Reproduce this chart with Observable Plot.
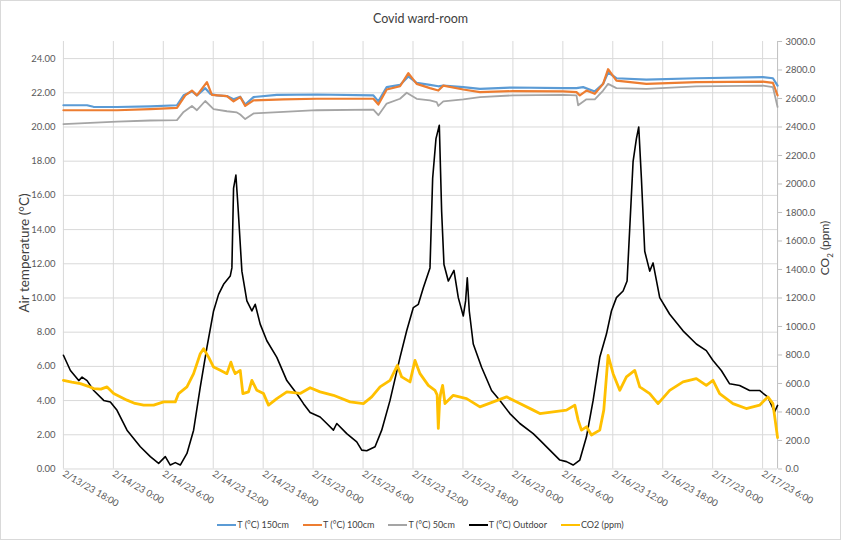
<!DOCTYPE html>
<html>
<head>
<meta charset="utf-8">
<script src="https://cdn.jsdelivr.net/npm/d3@7"></script>
<script src="https://cdn.jsdelivr.net/npm/@observablehq/plot@0.6"></script>
<style>
  html, body { margin: 0; padding: 0; background: #fff; }
  #wrap { position: relative; width: 841px; height: 540px; box-sizing: border-box; border: 1px solid #d9d9d9; font-family: Lato, "Open Sans", sans-serif; color: #595959; overflow: hidden; }
  #title { position: absolute; top: 10px; left: 0; width: 100%; text-align: center; font-size: 12.5px; color: #404040; }
  #chart { position: absolute; top: 29px; left: -1px; }
  .ytitle { position: absolute; white-space: nowrap; transform: translate(-50%, -50%) rotate(-90deg); color: #404040; }
  #legend { position: absolute; top: 516px; left: 0; width: 100%; display: flex; justify-content: center; font-size: 9px; line-height: 16px; color: #404040; }
  .item { display: flex; align-items: center; margin: 0 7px; }
  .sw { width: 19px; height: 2px; margin-right: 1px; }
</style>
</head>
<body>
<div id="wrap">
  <div id="title">Covid ward-room</div>
  <div id="chart"></div>
  <div class="ytitle" style="left:23px; top:252px; font-size:13.5px;">Air temperature (°C)</div>
  <div class="ytitle" style="left:825px; top:247px; font-size:12px;">CO<sub style="font-size:8px">2</sub> (ppm)</div>
  <div id="legend"></div>
</div>
<script>
// ---- data (hours after 2/13/23 18:00) ----
const startTime = [2023, 1, 13, 18];
const endHour = 85.8;

const seriesNames = ["T (°C) 150cm", "T (°C) 100cm", "T (°C) 50cm", "T (°C) Outdoor", "CO2 (ppm)"];
const seriesColors = ["#5B9BD5", "#ED7D31", "#A5A5A5", "#000000", "#FFC000"];

const t150Hours = [0, 2.84, 3.6, 6.44, 10.44, 13.64, 14.44, 15.44, 16.04, 17.04, 17.64, 18.44, 19.64, 20.44, 21.24, 21.84, 22.84, 25.64, 30.44, 37.24, 37.84, 38.84, 40.44, 41.44, 42.44, 44.04, 45.04, 45.64, 48.04, 50.04, 54.04, 60.04, 61.64, 62.44, 63.84, 64.84, 65.44, 66.44, 70.04, 76.04, 84.04, 85.24, 85.8];
const t150Values = [21.27, 21.27, 21.18, 21.17, 21.21, 21.27, 21.85, 22.08, 21.85, 22.27, 21.94, 21.85, 21.81, 21.62, 21.77, 21.31, 21.75, 21.88, 21.9, 21.85, 21.5, 22.33, 22.46, 22.96, 22.58, 22.46, 22.38, 22.42, 22.33, 22.23, 22.31, 22.27, 22.27, 22.33, 22.08, 22.52, 23.19, 22.85, 22.77, 22.85, 22.92, 22.85, 22.42];

const t100Hours = [0, 6.44, 10.44, 13.64, 14.64, 15.44, 16.04, 17.24, 17.84, 19.64, 20.44, 21.24, 21.84, 22.84, 26.44, 30.44, 37.24, 37.84, 38.84, 40.44, 41.44, 42.44, 44.04, 45.04, 45.64, 48.04, 50.04, 54.04, 60.04, 61.64, 62.04, 62.84, 63.84, 64.84, 65.44, 66.44, 70.04, 76.04, 84.04, 85.24, 85.8];
const t100Values = [20.98, 20.98, 21.04, 21.12, 21.85, 22.13, 21.85, 22.62, 21.88, 21.81, 21.5, 21.75, 21.23, 21.56, 21.62, 21.65, 21.65, 21.31, 22.19, 22.38, 23.15, 22.52, 22.27, 22.13, 22.42, 22.19, 22.04, 22.1, 22.08, 22.04, 21.85, 22.13, 21.94, 22.52, 23.38, 22.71, 22.52, 22.62, 22.65, 22.58, 21.85];

const t50Hours = [0, 6.44, 10.44, 13.64, 14.44, 15.44, 16.04, 17.04, 18.04, 19.64, 20.84, 21.24, 21.84, 22.84, 26.44, 30.44, 37.24, 37.84, 38.84, 40.44, 41.24, 42.44, 44.04, 44.84, 45.04, 45.64, 48.04, 50.04, 54.04, 60.04, 61.64, 61.84, 62.84, 63.84, 64.84, 65.44, 66.44, 70.04, 76.04, 84.04, 85.24, 85.8];
const t50Values = [20.17, 20.31, 20.38, 20.4, 20.88, 21.23, 20.98, 21.52, 21.04, 20.92, 20.85, 20.73, 20.46, 20.79, 20.88, 20.98, 21.02, 20.69, 21.37, 21.65, 22.0, 21.65, 21.55, 21.46, 21.23, 21.5, 21.62, 21.75, 21.85, 21.88, 21.85, 21.27, 21.62, 21.62, 22.13, 22.52, 22.27, 22.23, 22.38, 22.42, 22.33, 21.17];

const outdoorHours = [0, 0.84, 1.84, 2.24, 2.84, 3.64, 4.84, 5.64, 6.44, 7.64, 9.24, 10.44, 11.44, 12.24, 12.84, 13.44, 14.04, 14.84, 15.64, 16.44, 17.24, 18.04, 18.64, 19.24, 20.04, 20.24, 20.44, 20.72, 20.96, 21.44, 22.04, 22.64, 23.04, 23.64, 24.44, 25.64, 26.84, 28.04, 28.84, 29.64, 30.84, 31.64, 32.44, 32.84, 34.04, 35.24, 35.84, 36.44, 37.44, 38.24, 39.24, 40.44, 41.24, 42.04, 42.64, 43.24, 44.04, 44.36, 44.76, 45.16, 45.44, 45.72, 46.24, 46.92, 47.44, 48.04, 48.32, 48.52, 48.76, 49.24, 50.24, 51.44, 52.44, 53.64, 54.84, 56.44, 57.24, 58.44, 59.64, 60.44, 61.24, 62.04, 62.84, 63.64, 64.44, 65.24, 65.84, 66.44, 67.24, 67.72, 68.04, 68.44, 68.84, 69.12, 69.44, 69.84, 70.44, 70.84, 71.64, 72.84, 74.44, 76.04, 77.24, 78.04, 79.04, 80.04, 81.24, 82.44, 83.64, 84.64, 85.44, 85.8];
const outdoorValues = [6.65, 5.76, 5.17, 5.37, 5.17, 4.59, 4.01, 3.92, 3.43, 2.27, 1.3, 0.72, 0.33, 0.72, 0.23, 0.37, 0.23, 0.91, 2.27, 4.79, 7.11, 9.24, 10.21, 10.8, 11.28, 11.76, 16.41, 17.19, 15.45, 11.57, 9.83, 9.24, 9.63, 8.47, 7.5, 6.53, 5.17, 4.4, 3.82, 3.3, 3.04, 2.66, 2.27, 2.66, 2.07, 1.59, 1.1, 1.07, 1.3, 2.27, 4.01, 6.53, 8.08, 9.44, 9.63, 10.6, 11.76, 17.0, 19.32, 20.1, 15.06, 11.96, 10.99, 11.61, 10.02, 8.95, 9.83, 11.18, 9.24, 7.31, 5.95, 4.59, 4.01, 3.24, 2.66, 2.07, 1.69, 1.1, 0.52, 0.43, 0.23, 0.52, 1.88, 4.01, 6.53, 7.89, 9.24, 10.02, 10.41, 10.99, 14.09, 17.97, 19.32, 20.0, 17.0, 12.73, 11.57, 12.05, 10.02, 9.05, 8.08, 7.31, 6.92, 6.34, 5.76, 4.98, 4.88, 4.59, 4.59, 4.2, 3.33, 3.72];

const co2Hours = [0, 1.0, 2.04, 3.0, 3.64, 4.5, 5.24, 6.04, 7.64, 8.6, 9.64, 10.84, 12.04, 13.44, 13.84, 14.84, 15.64, 16.44, 16.84, 17.44, 18.04, 18.84, 19.64, 20.12, 20.4, 20.64, 21.24, 21.56, 22.24, 22.64, 23.24, 24.04, 24.64, 25.64, 26.84, 28.44, 29.64, 30.84, 32.44, 34.44, 36.04, 37.04, 38.04, 39.24, 40.12, 40.64, 41.64, 42.24, 42.84, 43.84, 44.64, 44.9, 45.04, 45.2, 45.32, 45.56, 45.84, 46.84, 48.44, 50.04, 51.64, 53.24, 54.84, 56.44, 57.24, 58.84, 60.44, 61.44, 61.84, 62.24, 62.84, 63.44, 64.44, 64.92, 65.44, 66.04, 66.84, 67.64, 68.64, 69.24, 70.44, 71.44, 72.84, 74.44, 76.04, 77.24, 78.04, 78.84, 80.44, 82.04, 83.64, 84.64, 85.24, 85.8];
const co2Values = [622, 610, 599, 580, 564, 560, 576, 529, 483, 460, 448, 448, 471, 471, 529, 576, 669, 809, 844, 785, 715, 692, 669, 750, 700, 669, 692, 529, 541, 622, 552, 529, 448, 494, 541, 530, 570, 541, 517, 471, 459, 506, 576, 622, 727, 646, 611, 762, 669, 587, 552, 520, 285, 480, 529, 587, 459, 517, 494, 436, 471, 506, 459, 413, 389, 401, 413, 448, 343, 273, 296, 238, 273, 413, 797, 669, 552, 646, 692, 576, 529, 459, 552, 611, 634, 587, 622, 529, 459, 424, 448, 506, 459, 220];

const tempTicks = [0, 2, 4, 6, 8, 10, 12, 14, 16, 18, 20, 22, 24];
const co2Ticks = [0, 200, 400, 600, 800, 1000, 1200, 1400, 1600, 1800, 2000, 2200, 2400, 2600, 2800, 3000];
const xTickHours = [0, 6, 12, 18, 24, 30, 36, 42, 48, 54, 60, 66, 72, 78, 84];

// ---- build ----
const t0 = new Date(startTime[0], startTime[1], startTime[2], startTime[3], 0, 0);
const toDate = h => new Date(t0.getTime() + h * 3600e3);
const co2Factor = 3000 / 25; // right axis 0-3000 maps to left 0-25

function rows(hours, values, scale = 1) {
  return hours.map((h, i) => ({date: toDate(h), v: values[i] / scale}));
}
const s150 = rows(t150Hours, t150Values);
const s100 = rows(t100Hours, t100Values);
const s50 = rows(t50Hours, t50Values);
const sOut = rows(outdoorHours, outdoorValues);
const sCo2 = rows(co2Hours, co2Values, co2Factor);

const xTicks = xTickHours.map(toDate);
const fmtX = d => `${d.getMonth() + 1}/${d.getDate()}/23 ${d.getHours()}:${String(d.getMinutes()).padStart(2, "0")}`;

const chart = Plot.plot({
  width: 841,
  height: 485,
  marginTop: 11,
  marginLeft: 63,
  marginRight: 63,
  marginBottom: 46,
  style: {fontFamily: "Lato, 'Open Sans', sans-serif", fontSize: "9.5px", color: "#595959", background: "transparent"},
  x: {type: "time", domain: [toDate(0), toDate(endHour)]},
  y: {domain: [0, 25]},
  marks: [
    Plot.gridY(tempTicks, {stroke: "#d9d9d9", strokeOpacity: 1}),
    Plot.gridX(xTicks, {stroke: "#d9d9d9", strokeOpacity: 1}),
    Plot.ruleX([toDate(endHour)], {stroke: "#bfbfbf", strokeOpacity: 1}),
    Plot.axisY(tempTicks, {anchor: "left", tickSize: 0, tickPadding: 8, tickFormat: d => d.toFixed(2), label: null}),
    Plot.axisY(co2Ticks.map(c => c / co2Factor), {anchor: "right", tickSize: 4, tickPadding: 4, stroke: "#bfbfbf", tickFormat: d => (d * co2Factor).toFixed(1), label: null}),
    Plot.axisX(xTicks, {tickSize: 0, tickPadding: 4, tickRotate: 30, textAnchor: "start", tickFormat: fmtX, label: null}),
    Plot.line(s150, {x: "date", y: "v", stroke: seriesColors[0], strokeWidth: 2.2}),
    Plot.line(s100, {x: "date", y: "v", stroke: seriesColors[1], strokeWidth: 2.2}),
    Plot.line(s50, {x: "date", y: "v", stroke: seriesColors[2], strokeWidth: 1.8}),
    Plot.line(sOut, {x: "date", y: "v", stroke: seriesColors[3], strokeWidth: 1.6}),
    Plot.line(sCo2, {x: "date", y: "v", stroke: seriesColors[4], strokeWidth: 2.8})
  ]
});
document.getElementById("chart").appendChild(chart);

const legend = document.getElementById("legend");
seriesNames.forEach((name, i) => {
  const item = document.createElement("div");
  item.className = "item";
  const sw = document.createElement("div");
  sw.className = "sw";
  sw.style.background = seriesColors[i];
  const label = document.createElement("span");
  label.textContent = name;
  item.appendChild(sw);
  item.appendChild(label);
  legend.appendChild(item);
});
</script>
</body>
</html>
